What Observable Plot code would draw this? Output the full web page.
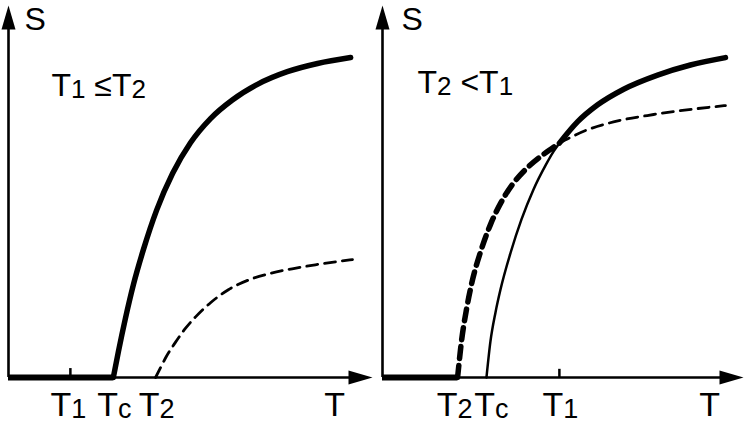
<!DOCTYPE html>
<html><head><meta charset="utf-8">
<script src="https://cdn.jsdelivr.net/npm/d3@7"></script>
<script src="https://cdn.jsdelivr.net/npm/@observablehq/plot@0.6"></script>
<style>
body{margin:0;background:#fff}
#wrap{display:flex;width:747px;height:421px;overflow:hidden;background:#fff}
</style>
</head><body><div id="wrap"></div>
<script>
// ---------- data (arbitrary units: T along x, S along y) ----------
const leftTickNames  = ["T1", "Tc", "T2", "T"];
const leftTickValues = [17.0, 28.8, 40.4, 89.6];
const leftNote = "T1 ≤T2";
// order parameter, solid thick curve
const leftSolidT = [28.8, 30.2, 32.1, 34.3, 37.1, 40.7, 45.1, 50.0, 55.5, 61.5, 68.4, 76.6, 84.9, 94.0];
const leftSolidS = [0,    7.0, 15.8, 24.9, 34.5, 45.0, 54.9, 63.1, 69.6, 74.6, 78.8, 82.2, 84.4, 86.0];
// order parameter, dashed thin curve
const leftDashedT = [40.4, 41.8, 43.4, 45.9, 48.6, 51.4, 55.5, 60.4, 65.9, 72.0, 78.3, 84.3, 90.7, 94.5];
const leftDashedS = [0,    2.7,  5.7,  9.5, 13.2, 16.3, 20.1, 23.6, 26.2, 28.0, 29.3, 30.3, 31.2, 31.7];

const rightTickNames  = ["T2", "Tc", "T1", "T"];
const rightTickValues = [20.8, 28.8, 49.0, 90.6];
const rightNote = "T2 <T1";
const rightSolidT = [28.8, 29.9, 31.3, 32.7, 35.5, 38.5, 41.8, 45.2, 47.4, 49.0, 54.0, 59.6, 66.8, 76.2, 85.3, 95.0];
const rightSolidS = [0,    9.7, 17.5, 23.7, 33.6, 42.5, 50.5, 57.1, 60.8, 63.0, 68.7, 73.3, 77.5, 81.3, 84.0, 86.0];
const rightDashedT = [20.8, 21.9, 23.3, 24.9, 27.1, 29.9, 32.7, 36.0, 39.6, 43.8, 47.1, 49.0, 56.8, 64.0, 75.1, 87.3, 95.0];
const rightDashedS = [0,    9.9, 18.5, 26.1, 33.6, 41.1, 46.8, 51.9, 55.9, 59.4, 61.7, 63.0, 66.6, 68.7, 70.7, 72.3, 73.1];

const axisY = "S";

// ---------- layout / style ----------
const FONT = "'Liberation Sans', Arial, Helvetica, sans-serif";
const leftLabelNudge  = [-2, 1, 1, 0];
const rightLabelNudge = [-3, 5, 1, 0];

const pts = (T, S) => T.map((t, i) => ({T: t, S: S[i]}));
const arrowHead = {
  draw(ctx) { const L = 24, W = 7; ctx.moveTo(0, 0); ctx.lineTo(W, L); ctx.lineTo(-W, L); ctx.closePath(); }
};

function axes() {
  return [
    Plot.ruleY([0], {x1: 0, x2: 96, stroke: "black", strokeWidth: 2.6}),
    Plot.ruleX([0], {y1: 0, y2: 96, stroke: "black", strokeWidth: 2.6}),
    Plot.dot([{x: 100, y: 0, a: 90}, {x: 0, y: 100, a: 0}],
      {x: "x", y: "y", rotate: "a", symbol: arrowHead, fill: "black", stroke: "none", r: 5})
  ];
}

function tickLabels(names, values, nudges) {
  return names.map((n, i) => Plot.text([n], {x: values[i], y: 0, dy: 28, dx: nudges[i], text: d => d, fontSize: 34, fill: "black"}));
}

function subscripts(svg) {
  d3.select(svg).selectAll("text").each(function() {
    const s = this.textContent;
    if (!/T[12c]/.test(s)) return;
    const fs = parseFloat(this.closest("g").getAttribute("font-size")) || 34;
    const parts = s.split(/(?<=T)([12c])/);
    const el = d3.select(this);
    el.text(null);
    let lowered = false;
    parts.forEach((p, i) => {
      if (p === "") return;
      const t = el.append("tspan").text(p);
      if (i % 2 === 1) {
        t.attr("font-size", Math.round(0.8 * fs)).attr("dy", 2);
        lowered = true;
      } else if (lowered) {
        t.attr("dy", -2); lowered = false;
      }
    });
  });
  return svg;
}

function panel(o) {
  const svg = Plot.plot({
    width: o.width, height: 421,
    marginLeft: 8, marginRight: o.marginRight, marginTop: 5, marginBottom: 44,
    x: {domain: [0, 100], axis: null},
    y: {domain: [0, 100], axis: null},
    style: {fontFamily: FONT, color: "black", background: "white", overflow: "visible"},
    marks: o.marks
  });
  return subscripts(svg);
}

// ---------- left panel ----------
const lSolid = pts(leftSolidT, leftSolidS);
const lDashed = pts(leftDashedT, leftDashedS);
const left = panel({
  width: 374, marginRight: 2,
  marks: [
    ...axes(),
    Plot.ruleY([0], {x1: 0, x2: leftSolidT[0], stroke: "black", strokeWidth: 6}),
    Plot.ruleX([leftTickValues[0]], {y1: 0, y2: 2.4, stroke: "black", strokeWidth: 2.5}),
    Plot.line(lSolid, {x: "T", y: "S", curve: "monotone-x", stroke: "black", strokeWidth: 5.5}),
    Plot.line(lDashed, {x: "T", y: "S", curve: "monotone-x", stroke: "black", strokeWidth: 2.8, strokeDasharray: "11,7"}),
    ...tickLabels(leftTickNames, leftTickValues, leftLabelNudge),
    Plot.text([axisY], {x: 0, y: 100, dx: 16, dy: 14, text: d => d, textAnchor: "start", fontSize: 32, fill: "black"}),
    Plot.text([leftNote], {x: 11.8, y: 78.5, text: d => d, textAnchor: "start", fontSize: 32, fill: "black"})
  ]
});

// ---------- right panel ----------
const T1r = rightTickValues[2];
const rSolid = pts(rightSolidT, rightSolidS);
const rDashed = pts(rightDashedT, rightDashedS);
const right = panel({
  width: 373, marginRight: 4,
  marks: [
    ...axes(),
    Plot.ruleY([0], {x1: 0, x2: rightDashedT[0], stroke: "black", strokeWidth: 6}),
    Plot.ruleX([T1r], {y1: 0, y2: 2.2, stroke: "black", strokeWidth: 2.5}),
    Plot.line(rSolid.filter(d => d.T <= T1r), {x: "T", y: "S", curve: "monotone-x", stroke: "black", strokeWidth: 2.5}),
    Plot.line(rSolid.filter(d => d.T >= T1r), {x: "T", y: "S", curve: "monotone-x", stroke: "black", strokeWidth: 5.5}),
    Plot.line(rDashed.filter(d => d.T <= T1r), {x: "T", y: "S", curve: "monotone-x", stroke: "black", strokeWidth: 5.5, strokeDasharray: "12,7"}),
    Plot.line(rDashed.filter(d => d.T >= T1r), {x: "T", y: "S", curve: "monotone-x", stroke: "black", strokeWidth: 2.8, strokeDasharray: "11,7"}),
    ...tickLabels(rightTickNames, rightTickValues, rightLabelNudge),
    Plot.text([axisY], {x: 0, y: 100, dx: 19, dy: 14, text: d => d, textAnchor: "start", fontSize: 32, fill: "black"}),
    Plot.text([rightNote], {x: 9.7, y: 79.1, text: d => d, textAnchor: "start", fontSize: 32, fill: "black"})
  ]
});

const wrap = document.getElementById("wrap");
wrap.appendChild(left);
wrap.appendChild(right);
</script>
</body></html>
